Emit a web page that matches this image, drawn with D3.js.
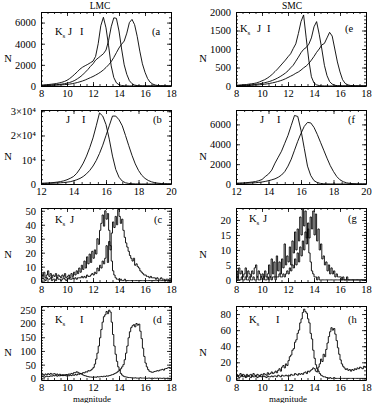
<!DOCTYPE html>
<html>
<head>
<meta charset="utf-8">
<script src="https://cdn.jsdelivr.net/npm/d3@7"></script>
<style>
body { margin: 0; background: #fff; }
text { font-family: "Liberation Serif", "DejaVu Serif", serif; fill: #000; }
</style>
</head>
<body>
<svg id="chart" width="372" height="403"></svg>
<script>
// ---- smooth histograms, 0.2 mag steps ----
// (a) LMC, 8.0 .. 18.0
const lmcKsA = [80,100,120,140,170,200,240,290,350,430, 540,700,900,1120,1350,1600,1780,1920,2050,2200,
  2350,2800,4000,5700,6500,5500,3800,1900,800,300, 120,50,25,12,8,5,3,2,1,1, 0,0,0,0,0,0,0,0,0,0,0];
const lmcJA = [50,60,70,80,95,110,130,150,180,220, 270,330,420,530,680,850,1050,1300,1550,1850,
  2100,2450,2650,2850,3050,3400,4300,5600,6450,6400, 5200,3500,2000,1100,500,220,90,40,20,10, 5,3,2,1,1,0,0,0,0,0,0];
const lmcIA = [30,35,40,50,60,70,80,95,110,130, 150,180,220,270,330,400,480,570,680,790,
  900,1030,1170,1330,1520,1750,2000,2300,2700,3150, 3600,3950,4250,5000,6000,6300,5800,4700,3300,2100,
  1300,700,350,180,90,45,25,12,6,3,2];
// (e) SMC, 8.0 .. 18.0
const smcKsE = [20,25,30,35,40,50,60,70,85,110, 140,170,210,260,320,390,460,540,620,700,
  790,870,1010,1140,1420,1740,1920,1300,700,250, 80,30,12,5,3,2,1,1,1,0, 0,0,0,0,0,0,0,0,0,0,0];
const smcJE = [10,12,15,18,22,27,33,40,50,60, 72,88,105,125,150,180,215,255,300,350,
  410,490,560,670,780,900,990,1040,1130,1300, 1600,1740,1400,1000,560,280,120,50,20,10, 5,3,2,1,1,0,0,0,0,0,0];
const smcIE = [5,6,8,10,12,15,18,22,27,33, 40,48,58,70,85,100,120,140,165,195,
  230,265,300,345,380,430,490,540,610,700, 800,910,1000,1110,1150,1300,1450,1350,1000,650,
  380,170,70,30,15,8,4,2,1,1,0];
// (b) LMC, 12.0 .. 20.0
const lmcJB = [300,350,420,500,620,780,1000,1300,1750,2350, 3100,4400,6300,8600,11500,15000,19000,24000,29300,28000,
  24500,18500,11500,6000,2800,1200,500,220,100,50, 25,12,6,3,2,1,0,0,0,0,0];
const lmcIB = [200,230,260,300,350,420,500,600,750,950, 1300,1750,2300,3100,4200,5600,7400,9700,12600,16000,
  20000,24000,28000,28000,26500,24000,20000,15800,11800,8300, 5600,3600,2300,1450,900,560,340,200,120,70,40];
// (f) SMC, 12.0 .. 20.0
const smcJF = [80,95,110,130,160,200,250,330,450,750, 1000,1400,2100,2700,3300,4100,4900,5900,6900,6800,
  5400,3600,1800,850,340,140,60,25,10,5, 2,1,1,0,0,0,0,0,0,0,0];
const smcIF = [50,55,65,75,90,110,130,160,200,260, 330,420,520,680,900,1250,1800,2500,3400,4300,
  5100,5800,6200,6150,5700,5000,4200,3400,2600,1850, 1250,750,420,230,120,60,30,15,8,4,2];

// ---- noisy histograms, 0.1 mag bins, 8.0 .. 17.9 ----
const lmcKsC = [5,3,6,2,4,7,3,5,2,4, 3,5,2,4,3,2,4,3,5,2, 3,4,2,5,3,6,4,7,5,9, 6,11,8,14,9,17,12,19,13,21,
  16,22,19,30,26,36,41,47,39,50, 44,48,36,25,14,7,4,2,1,1, 0,1,0,0,1,0,0,0,0,0,
  0,0,0,0,0,0,0,0,0,0, 0,0,0,0,0,0,0,0,0,0, 0,0,0,0,0,0,0,0,0,0];
const lmcJC = [1,2,1,0,2,1,1,2,0,1, 1,0,2,1,1,0,1,2,1,0, 1,2,1,1,2,1,2,1,2,2, 2,3,2,3,2,4,3,3,4,5,
  4,6,5,9,7,11,9,14,12,16, 25,13,28,22,34,42,38,46,40,51, 46,41,44,36,31,27,24,21,18,16,
  14,16,11,12,10,9,7,6,5,4, 4,3,3,2,3,2,2,2,1,2, 1,1,2,1,1,0,1,1,0,1];
const lmcKsD = [12,15,11,16,13,17,14,18,15,16, 17,14,16,12,15,11,13,10,12,9, 11,9,12,10,13,11,14,12,16,15,
  18,17,21,20,24,23,28,27,30,34, 40,52,70,92,118,148,178,205,225,232, 244,236,249,242,205,160,118,88,62,42,
  30,18,12,8,6,5,4,3,3,2, 2,1,2,1,1,1,2,1,1,1, 1,0,1,1,0,1,0,1,0,1, 0,1,0,0,1,0,0,1,0,0];
const lmcID = [5,7,4,6,8,6,7,9,8,10, 9,11,8,10,9,12,10,13,12,14, 13,16,15,18,17,21,20,24,22,19,
  17,15,12,10,9,7,6,5,5,4, 4,5,4,6,5,6,7,6,8,7, 9,8,10,11,13,14,17,19,22,26,
  30,35,42,50,68,92,118,148,170,185, 192,196,188,200,194,198,172,145,110,80,
  56,42,32,26,24,22,23,25,26,28, 27,30,31,33,30,35,36,38,40,37];
const smcKsG = [3,1,4,2,3,1,2,4,1,3, 2,1,3,2,4,5,1,3,2,1, 2,1,3,1,2,5,1,7,2,6, 1,8,3,6,2,7,4,12,5,8,
  6,11,5,13,9,16,10,17,13,21, 15,24,18,23,14,17,9,6,3,2, 1,1,0,1,0,0,0,0,0,0,
  0,0,0,0,0,0,0,0,0,0, 0,0,0,0,0,0,0,0,0,0, 0,0,0,0,0,0,0,0,0,0];
const smcJG = [0,1,0,0,1,0,0,1,0,0, 1,0,0,1,0,0,1,0,0,1, 0,1,0,0,1,0,1,0,1,1, 0,1,1,2,1,1,2,1,2,3,
  2,4,3,5,4,7,5,9,6,11, 8,13,10,16,12,19,14,21,17,23, 15,22,13,17,10,12,7,8,5,6,
  3,5,2,4,2,3,1,2,1,1, 1,0,1,0,0,1,0,0,0,0, 0,0,0,0,0,0,0,0,0,0];
const smcKsH = [5,3,4,6,3,5,4,2,5,3, 4,5,3,6,4,3,5,4,3,5, 4,6,5,4,7,5,6,8,6,7, 9,7,10,12,9,14,16,13,18,16,
  22,27,29,35,37,45,48,56,60,69, 74,82,86,83,81,74,69,56,49,35, 25,17,12,9,6,4,3,2,2,1,
  1,0,1,0,0,1,0,0,0,0, 0,0,0,0,0,0,0,0,0,0, 0,0,0,0,0,0,0,0,0,0];
const smcIH = [2,3,1,2,4,2,3,1,2,3, 2,1,3,2,2,3,1,2,3,2, 2,3,2,1,3,2,2,3,2,3, 3,2,4,3,2,4,3,3,4,3,
  4,3,5,4,4,6,5,4,6,5, 6,5,7,8,6,9,8,10,11,13, 12,9,8,14,18,24,21,30,27,36,
  44,52,58,63,60,62,55,47,38,30, 23,18,15,13,11,12,10,11,9,11, 10,12,11,13,12,14,13,12,15,14];

const W = 130, H = 74;
const colLeft = [41, 236];
const rowTop = [12, 110, 208, 306];

const sup4 = '\u2074';
const fmtB = function (d) { return d === 0 ? '0' : (d === 10000 ? '10' + sup4 : (d / 10000) + '\u00d710' + sup4); };

const panels = [
  {col: 0, row: 0, xDom: [8, 18], yDom: [0, 7000], yMaj: 2000, yMin: 500, x0: 8, dx: 0.2, step: false,
   series: [lmcKsA, lmcJA, lmcIA], labels: [['Ks', 14], ['J', 27], ['I', 39]], tag: '(a', tagX: 111, ly: 23},
  {col: 0, row: 1, xDom: [12, 20], yDom: [0, 30500], yMaj: 10000, yMin: 2000, x0: 12, dx: 0.2, step: false, fmt: fmtB,
   series: [lmcJB, lmcIB], labels: [['J', 25], ['I', 41]], tag: '(b', tagX: 112, ly: 13},
  {col: 0, row: 2, xDom: [8, 18], yDom: [-1, 52], yMaj: 10, yMin: 2, x0: 8, dx: 0.1, step: true,
   series: [lmcKsC, lmcJC], labels: [['Ks', 14], ['J', 29]], tag: '(c', tagX: 113, ly: 15},
  {col: 0, row: 3, xDom: [8, 18], yDom: [-6, 264], yMaj: 50, yMin: 10, x0: 8, dx: 0.1, step: true,
   series: [lmcKsD, lmcID], labels: [['Ks', 14], ['I', 39]], tag: '(d', tagX: 112, ly: 17},
  {col: 1, row: 0, xDom: [8, 18], yDom: [0, 2000], yMaj: 500, yMin: 100, x0: 8, dx: 0.2, step: false,
   series: [smcKsE, smcJE, smcIE], labels: [['Ks', 4], ['J', 21], ['I', 31]], tag: '(e', tagX: 109, ly: 20},
  {col: 1, row: 1, xDom: [12, 20], yDom: [0, 7450], yMaj: 2000, yMin: 500, x0: 12, dx: 0.2, step: false,
   series: [smcJF, smcIF], labels: [['J', 24], ['I', 41]], tag: '(f', tagX: 112, ly: 13},
  {col: 1, row: 2, xDom: [8, 18], yDom: [-0.7, 24], yMaj: 5, yMin: 1, x0: 8, dx: 0.1, step: true,
   series: [smcKsG, smcJG], labels: [['Ks', 13], ['J', 27]], tag: '(g', tagX: 112, ly: 14},
  {col: 1, row: 3, xDom: [8, 18], yDom: [-2, 90], yMaj: 20, yMin: 5, x0: 8, dx: 0.1, step: true,
   series: [smcKsH, smcIH], labels: [['Ks', 13], ['I', 40]], tag: '(h', tagX: 112, ly: 17}
];

const svg = d3.select('#chart');

function ticksFor(dom, step) {
  let start = Math.ceil(dom[0] / step - 1e-9) * step;
  return d3.range(start, dom[1] + 1e-9, step).map(function (v) { return Math.round(v * 1000) / 1000; });
}

panels.forEach(function (p, idx) {
  let left = colLeft[p.col], top = rowTop[p.row];
  let g = svg.append('g').attr('transform', 'translate(' + left + ',' + top + ')');
  let x = d3.scaleLinear().domain(p.xDom).range([0, W]);
  let y = d3.scaleLinear().domain(p.yDom).range([H, 0]);

  let clipId = 'clip' + idx;
  g.append('clipPath').attr('id', clipId).append('rect').attr('width', W).attr('height', H);

  let line = d3.line()
    .x(function (d) { return x(d[0]); })
    .y(function (d) { return y(d[1]); })
    .curve(p.step ? d3.curveStepAfter : d3.curveLinear);

  p.series.forEach(function (vals) {
    let pts = vals.map(function (v, i) { return [p.x0 + i * p.dx, v]; });
    if (p.step) pts.push([p.x0 + vals.length * p.dx, vals[vals.length - 1]]);
    g.append('path')
      .attr('clip-path', 'url(#' + clipId + ')')
      .attr('d', line(pts))
      .attr('fill', 'none')
      .attr('stroke', '#000')
      .attr('stroke-width', 0.9);
  });

  let xMaj = ticksFor(p.xDom, 2), xMin = ticksFor(p.xDom, 0.5);
  let yMaj = ticksFor(p.yDom, p.yMaj), yMin = ticksFor(p.yDom, p.yMin);

  // minor ticks on all four sides
  [[d3.axisBottom(x), 'translate(0,' + H + ')', xMin], [d3.axisTop(x), null, xMin],
   [d3.axisLeft(y), null, yMin], [d3.axisRight(y), 'translate(' + W + ',0)', yMin]].forEach(function (a) {
    let ax = g.append('g').call(a[0].tickValues(a[2]).tickSize(-2).tickFormat(''));
    if (a[1]) ax.attr('transform', a[1]);
    ax.select('.domain').remove();
  });
  // major ticks, top and right without labels
  [[d3.axisTop(x), null, xMaj], [d3.axisRight(y), 'translate(' + W + ',0)', yMaj]].forEach(function (a) {
    let ax = g.append('g').call(a[0].tickValues(a[2]).tickSize(-4).tickSizeOuter(0).tickFormat(''));
    if (a[1]) ax.attr('transform', a[1]);
  });
  g.append('g')
    .attr('transform', 'translate(0,' + H + ')')
    .call(d3.axisBottom(x).tickValues(xMaj).tickSize(-4).tickSizeOuter(0).tickPadding(4).tickFormat(d3.format('d')));
  g.append('g')
    .call(d3.axisLeft(y).tickValues(yMaj).tickSize(-4).tickSizeOuter(0).tickPadding(5)
      .tickFormat(p.fmt || d3.format('d')));

  g.selectAll('.domain').attr('stroke', '#000').attr('stroke-width', 1);
  g.selectAll('.tick line').attr('stroke', '#000').attr('stroke-width', 0.8);
  g.selectAll('.tick text').attr('font-size', '10.5px').attr('font-family', '"Liberation Serif", serif').attr('fill', '#000');

  // band labels and panel tag
  p.labels.forEach(function (l) {
    let t = g.append('text').attr('x', l[1]).attr('y', p.ly).attr('font-size', '10.5px');
    t.append('tspan').text(l[0].charAt(0));
    if (l[0].length > 1) t.append('tspan').attr('dy', 2.5).attr('font-size', '7px').text(l[0].slice(1));
  });
  g.append('text').attr('x', p.tagX).attr('y', p.ly).attr('font-size', '10.5px').text(p.tag);

  // y title
  g.append('text').attr('x', -33).attr('y', H / 2 + 13).attr('text-anchor', 'middle')
    .attr('font-size', '10.5px').text('N');
});

svg.append('text').attr('x', 100).attr('y', 9).attr('text-anchor', 'middle').attr('font-size', '9.5px').text('LMC');
svg.append('text').attr('x', 292).attr('y', 9).attr('text-anchor', 'middle').attr('font-size', '9.5px').text('SMC');
svg.append('text').attr('x', 92).attr('y', 402).attr('text-anchor', 'middle').attr('font-size', '9px').text('magnitude');
svg.append('text').attr('x', 288).attr('y', 402).attr('text-anchor', 'middle').attr('font-size', '9px').text('magnitude');
</script>
</body>
</html>
